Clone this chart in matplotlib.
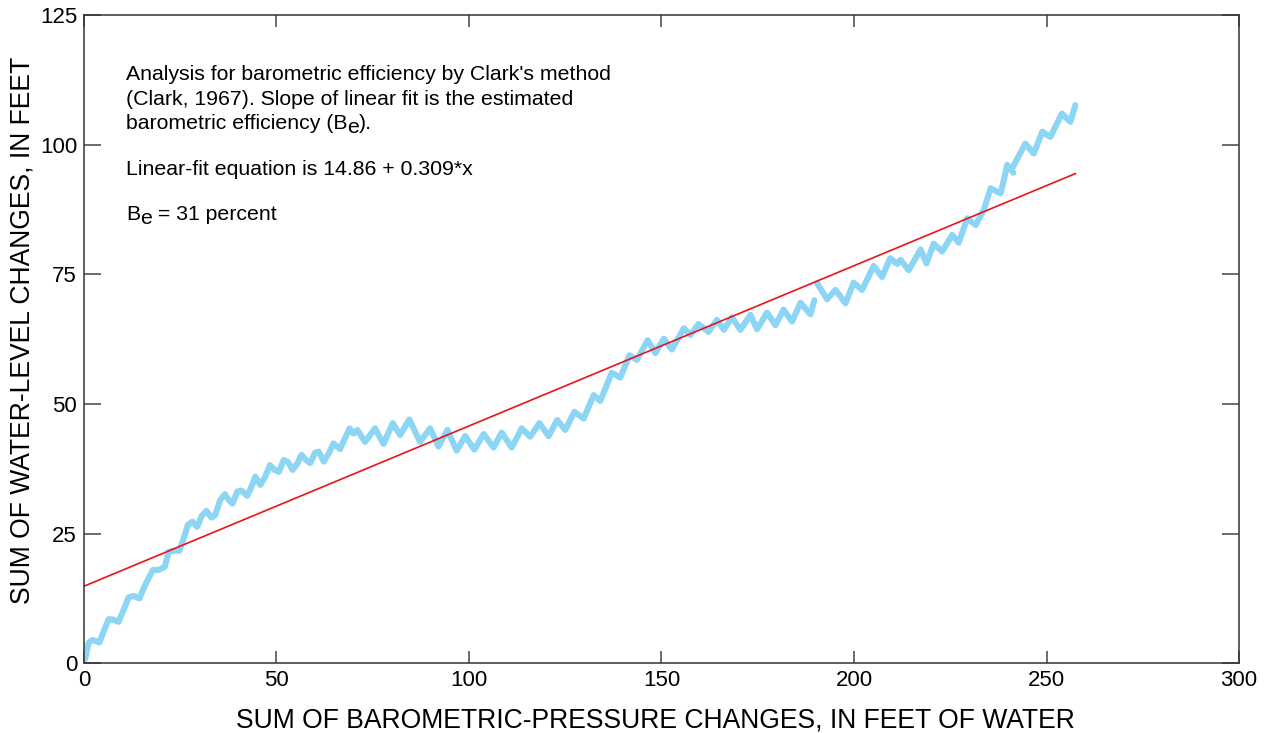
import numpy as np
import matplotlib
matplotlib.use("Agg")
import matplotlib.pyplot as plt
from matplotlib.transforms import offset_copy

plt.rcParams['font.family'] = ['Liberation Sans', 'DejaVu Sans']

# cumulative sums, first record up to the break near 190 ft
baro_a = [0.3, 1.2, 2.1, 3.4, 4.0, 5.1, 6.4, 7.7, 9.0, 10.3, 11.6, 12.9, 14.4, 15.9,
          17.9, 19.4, 21.0, 22.0, 23.3, 24.8, 25.9, 27.0, 28.2, 29.4, 30.5, 31.8,
          33.1, 34.1, 35.4, 36.6, 37.6, 38.6, 39.8, 40.9, 42.4, 43.5, 44.5, 45.8,
          47.1, 48.3, 49.5, 50.6, 51.9, 53.0, 54.2, 55.4, 56.5, 57.7, 58.8, 60.0,
          61.0, 62.3, 63.6, 64.8, 66.5, 69.0, 70.0, 71.0, 73.0, 75.6, 77.8, 80.2,
          82.1, 84.5, 87.3, 89.9, 92.1, 94.4, 96.8, 99.0, 101.4, 103.8, 106.4, 108.5,
          111.1, 113.7, 115.9, 118.3, 120.7, 122.9, 125.0, 127.4, 129.8, 132.4, 134.1,
          137.1, 139.3, 141.7, 143.6, 146.4, 148.4, 150.6, 152.7, 155.8, 157.5, 159.6,
          162.2, 164.4, 166.2, 168.3, 170.5, 173.1, 174.8, 177.4, 179.6, 181.7, 183.9,
          186.1, 188.7, 189.7]
wl_a = [0.8, 3.9, 4.5, 4.2, 4.0, 6.1, 8.5, 8.4, 8.0, 10.3, 12.7, 13.0, 12.5, 15.1,
        18.0, 18.0, 18.6, 21.5, 21.7, 21.7, 24.1, 26.7, 27.3, 26.3, 28.3, 29.4,
        28.1, 28.6, 31.5, 32.6, 31.5, 30.8, 33.1, 33.3, 32.3, 34.0, 36.0, 34.4,
        36.0, 38.2, 37.3, 36.9, 39.2, 38.8, 37.3, 38.5, 40.2, 39.2, 38.6, 40.6,
        40.8, 38.9, 40.5, 42.4, 41.3, 45.3, 44.3, 45.0, 42.7, 45.3, 42.3, 46.3,
        44.0, 47.0, 42.7, 45.3, 41.8, 45.0, 41.0, 43.8, 41.2, 44.2, 41.6, 44.5,
        41.6, 45.3, 43.7, 46.3, 43.8, 46.9, 45.0, 48.5, 47.2, 51.7, 50.6,
        56.0, 55.1, 59.4, 58.5, 62.3, 59.8, 62.6, 60.5, 64.6, 63.3, 65.4,
        63.9, 66.2, 64.3, 66.7, 64.3, 67.2, 64.4, 67.6, 65.2, 68.2, 65.9,
        69.5, 67.3, 70.0]

# second record, after the break
baro_b = [190.4, 193.0, 195.2, 197.8, 199.9, 202.1, 205.1, 207.3, 209.4, 211.2, 212.1,
          214.2, 217.3, 218.8, 220.7, 222.9, 225.5, 227.2, 229.4, 231.6, 233.7, 235.5,
          238.1, 239.8, 241.4]
wl_b = [73.3, 70.2, 72.0, 69.4, 73.4, 72.0, 76.6, 74.5, 78.1, 77.0, 77.8,
        75.8, 79.8, 77.1, 80.9, 79.4, 82.6, 81.1, 85.8, 84.5, 87.4, 91.6,
        90.6, 96.1, 94.6]

baro_c = [241.2, 244.5, 246.7, 248.9, 251.0, 254.0, 256.2, 257.5]
wl_c = [95.6, 100.2, 98.3, 102.5, 101.5, 106.0, 104.4, 107.6]

# linear fit
intercept = 14.86
slope = 0.309
fit_x = [0.0, 257.5]

fig = plt.figure(figsize=(12.7, 7.33), dpi=100)
ax = fig.add_axes([0.0661, 0.0951, 0.9095, 0.8844])

blue = '#8dd5f5'
for xs, ys in [(baro_a, wl_a), (baro_b, wl_b), (baro_c, wl_c)]:
    ax.plot(xs, ys, color=blue, lw=4.4, solid_joinstyle='round', solid_capstyle='round')

fx = np.array(fit_x)
ax.plot(fx, intercept + slope * fx, color='#e8141c', lw=1.2)

ax.set_xlim(0, 300)
ax.set_ylim(0, 125)
ax.set_xticks([0, 50, 100, 150, 200, 250, 300])
ax.set_yticks([0, 25, 50, 75, 100, 125])
ax.tick_params(axis='x', direction='in', length=8.5, width=1.1, color='#444444',
               top=True, labelsize=16, pad=5)
ax.tick_params(axis='y', direction='in', length=12, width=1.1, color='#444444',
               right=True, labelsize=16, pad=5)
for s in ax.spines.values():
    s.set_color('#333333')
    s.set_linewidth(1.1)

ax.set_xlabel('SUM OF BAROMETRIC-PRESSURE CHANGES, IN FEET OF WATER', fontsize=19.1)
ax.set_ylabel('SUM OF WATER-LEVEL CHANGES, IN FEET', fontsize=19.1)
ax.xaxis.set_label_coords(0.4944, -0.068)
ax.yaxis.set_label_coords(-0.042, 0.514)

fs = 15.3
tx = 0.0364


def put_line(y, pieces):
    # pieces: (text, drop in points); written left to right on one line
    fig.canvas.draw()
    r = fig.canvas.get_renderer()
    trans = ax.transAxes
    dx = 0.0
    for s, drop in pieces:
        t = ax.text(tx, y, s, fontsize=fs, va='center',
                    transform=offset_copy(trans, fig=fig, x=dx, y=-drop, units='dots'))
        dx += t.get_window_extent(renderer=r).width


put_line(0.9075, [("Analysis for barometric efficiency by Clark's method", 0)])
put_line(0.870, [("(Clark, 1967). Slope of linear fit is the estimated", 0)])
put_line(0.832, [("barometric efficiency (B", 0), ("e", 4), (").", 0)])
put_line(0.761, [("Linear-fit equation is 14.86 + 0.309*x", 0)])
put_line(0.693, [("B", 0), ("e", 4), (" = 31 percent", 0)])

fig.savefig('out.png', dpi=100)
